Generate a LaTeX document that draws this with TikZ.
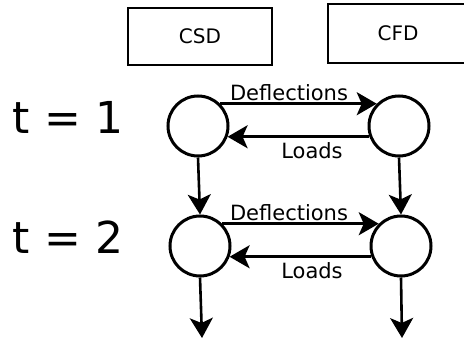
\documentclass[tikz,border=0pt]{standalone}
\usepackage{fontspec}
\setmainfont{DejaVu Sans}
\usetikzlibrary{arrows.meta}

\begin{document}
\begin{tikzpicture}[x=1pt,y=-1pt,
    solver/.style={draw,line width=2.8pt,inner sep=0pt,font=\fontsize{20}{24}\selectfont},
    state/.style={draw,circle,line width=3pt,minimum size=60pt,inner sep=0pt},
    flow/.style={line width=2.6pt,-{Stealth[length=20pt,width=23pt,inset=5pt]}},
    tag/.style={font=\fontsize{21}{24}\selectfont,inner sep=0pt},
    steplabel/.style={font=\fontsize{44}{50}\selectfont,inner sep=0pt}]
    \useasboundingbox (0,0) rectangle (464,344);
    \node[solver,minimum width=144pt,minimum height=57pt] (csd) at (200,36.5) {CSD};
    \node[solver,minimum width=140pt,minimum height=59pt] (cfd) at (398,33.5) {CFD};
    \foreach \i/\y/\xs/\xf in {1/126/198/399, 2/246/200/401}{
      \node[steplabel] (t\i) at (68,\y-9) {t = \i};
      \node[state] (s\i) at (\xs,\y) {};
      \node[state] (f\i) at (\xf,\y) {};
      \draw[flow] (s\i.45) -- (f\i.135);
      \draw[flow] (f\i.200) -- (s\i.-20);
      \node[tag] (d\i) at (289,\y-33) {Deflections};
      \node[tag] (l\i) at (312,\y+25) {Loads};
    }
    \coordinate (send) at (202,338);
    \coordinate (fend) at (402,338);
    \draw[flow] (s1.south) -- (s2.north);
    \draw[flow] (f1.south) -- (f2.north);
    \draw[flow] (s2.south) -- (send);
    \draw[flow] (f2.south) -- (fend);
\end{tikzpicture}
\end{document}
